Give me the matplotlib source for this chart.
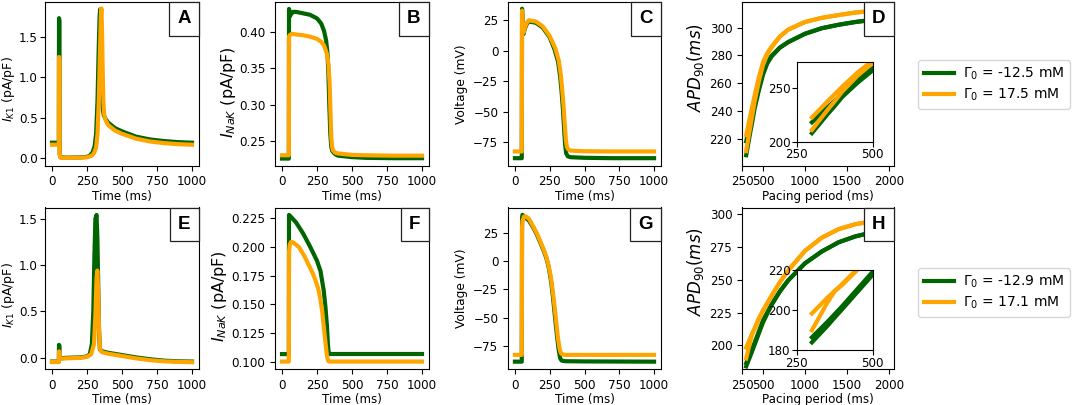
import matplotlib
matplotlib.use("Agg")
import matplotlib.pyplot as plt
from matplotlib.offsetbox import AnchoredText

# ---- data ----
# top row (Gamma0 = -12.5 / 17.5 mM)
ik1_a_t_green = [0, 49, 50, 53, 55, 60, 100, 200, 250, 270, 290, 305, 315, 325, 333, 340, 344, 348, 353, 358, 363, 370, 380, 400, 450, 500, 600, 700, 800, 900, 1000]
ik1_a_green = [0.19, 0.19, 1.73, 1.70, 0.05, 0.01, 0.005, 0.008, 0.015, 0.03, 0.07, 0.15, 0.3, 0.7, 1.3, 1.75, 1.84, 1.6, 1.1, 0.75, 0.6, 0.53, 0.49, 0.44, 0.37, 0.33, 0.265, 0.23, 0.21, 0.197, 0.19]
ik1_a_t_orange = [0, 49, 50, 53, 55, 60, 100, 200, 250, 280, 300, 315, 325, 335, 343, 349, 353, 357, 362, 367, 372, 380, 400, 450, 500, 600, 700, 800, 900, 1000]
ik1_a_orange = [0.165, 0.165, 1.25, 1.2, 0.04, 0.005, 0.002, 0.005, 0.01, 0.025, 0.06, 0.13, 0.3, 0.75, 1.35, 1.75, 1.85, 1.6, 1.1, 0.7, 0.55, 0.48, 0.41, 0.34, 0.3, 0.24, 0.205, 0.185, 0.172, 0.165]

inak_b_t_green = [0, 49, 50, 53, 57, 65, 80, 100, 150, 200, 250, 280, 300, 315, 325, 332, 338, 345, 352, 360, 380, 400, 500, 600, 800, 1000]
inak_b_green = [0.226, 0.226, 0.431, 0.428, 0.421, 0.424, 0.427, 0.427, 0.425, 0.423, 0.418, 0.411, 0.401, 0.388, 0.37, 0.34, 0.30, 0.26, 0.242, 0.236, 0.232, 0.230, 0.228, 0.227, 0.2265, 0.2265]
inak_b_t_orange = [0, 49, 50, 55, 70, 100, 150, 200, 250, 280, 300, 320, 332, 340, 346, 352, 358, 365, 380, 400, 500, 600, 800, 1000]
inak_b_orange = [0.2305, 0.2305, 0.393, 0.395, 0.397, 0.396, 0.395, 0.393, 0.39, 0.386, 0.381, 0.37, 0.355, 0.33, 0.29, 0.255, 0.242, 0.237, 0.234, 0.233, 0.231, 0.2305, 0.23, 0.23]

v_c_t_green = [0, 49, 51, 54, 58, 63, 70, 85, 100, 150, 200, 250, 285, 310, 325, 335, 345, 353, 360, 368, 380, 400, 500, 700, 1000]
v_c_green = [-88, -88, 34.5, 29, 18, 14, 18, 22, 24, 23, 19, 11, 1, -9, -21, -33, -48, -63, -76, -84, -86.5, -87.2, -87.7, -88, -88]
v_c_t_orange = [0, 49, 51, 54, 58, 63, 70, 85, 100, 150, 200, 250, 290, 315, 330, 340, 350, 358, 366, 374, 385, 400, 500, 700, 1000]
v_c_orange = [-82.5, -82.5, 33, 27, 16, 15, 19, 23, 25, 24, 20, 12, 2, -8, -20, -32, -46, -60, -73, -79, -81, -81.8, -82.3, -82.5, -82.5]

# bottom row (Gamma0 = -12.9 / 17.1 mM)
ik1_e_t_green = [0, 49, 50, 53, 55, 60, 100, 200, 250, 270, 285, 295, 303, 310, 318, 324, 330, 336, 342, 360, 400, 500, 600, 700, 800, 900, 1000]
ik1_e_green = [-0.04, -0.04, 0.14, 0.13, 0.0, -0.005, 0.0, 0.005, 0.015, 0.04, 0.15, 0.5, 1.1, 1.5, 1.54, 1.3, 0.8, 0.3, 0.09, 0.07, 0.055, 0.03, 0.005, -0.015, -0.03, -0.037, -0.04]
ik1_e_t_orange = [0, 49, 50, 53, 55, 60, 100, 200, 250, 280, 300, 310, 318, 324, 330, 336, 342, 350, 360, 400, 500, 600, 700, 800, 900, 1000]
ik1_e_orange = [-0.045, -0.045, 0.07, 0.065, -0.005, -0.01, -0.005, 0.0, 0.01, 0.04, 0.15, 0.45, 0.85, 0.94, 0.7, 0.3, 0.1, 0.07, 0.06, 0.045, 0.02, -0.005, -0.025, -0.037, -0.043, -0.047]

inak_f_t_green = [0, 49, 50, 55, 70, 100, 150, 200, 250, 275, 298, 310, 321, 328, 333, 340, 400, 600, 1000]
inak_f_green = [0.1065, 0.1065, 0.228, 0.2275, 0.2255, 0.2215, 0.212, 0.2005, 0.188, 0.179, 0.162, 0.148, 0.131, 0.115, 0.108, 0.1066, 0.1066, 0.1066, 0.1066]
inak_f_t_orange = [0, 49, 50, 55, 65, 80, 122, 160, 192, 220, 239, 260, 275, 288, 298, 310, 321, 330, 340, 400, 1000]
inak_f_orange = [0.1, 0.1, 0.195, 0.202, 0.2045, 0.204, 0.1998, 0.192, 0.184, 0.177, 0.171, 0.163, 0.154, 0.143, 0.131, 0.117, 0.105, 0.1005, 0.1, 0.1, 0.1]

v_g_t_green = [0, 49, 51, 54, 60, 75, 100, 130, 156, 180, 204, 225, 240, 252, 262, 276, 290, 303, 315, 325, 335, 360, 500, 1000]
v_g_green = [-89, -89, 38, 41, 40, 38.5, 36, 30, 24, 17, 10, 3, -4, -12, -20, -35, -52, -67, -79, -86, -88, -88.6, -88.8, -89]
v_g_t_orange = [0, 49, 51, 55, 65, 80, 100, 130, 156, 180, 204, 225, 240, 255, 265, 280, 295, 308, 320, 330, 340, 360, 500, 1000]
v_g_orange = [-83, -83, 30, 36, 39.5, 39.5, 37.5, 31, 25, 18, 11, 4, -3, -12, -20, -35, -52, -67, -77, -81.5, -82.5, -83, -83, -83]

# APD90 restitution (two alternans branches per condition)
pacing = [300, 350, 375, 400, 450, 500, 550, 600, 700, 800, 1000, 1200, 1400, 1600, 1800, 2000]
apd_d_green_hi = [218, 231.5, 238, 244.5, 257, 268, 275, 279.5, 285.5, 289.5, 295.5, 299.5, 302, 304, 305.5, 306.5]
apd_d_green_lo = [208, 225, 233, 241.5, 254.5, 266, 274, 279, 285.5, 289.5, 295.5, 299.5, 302, 304, 305.5, 306.5]
apd_d_orange_hi = [222.5, 237, 244, 251, 264, 275, 281.5, 286, 293.5, 298.5, 304, 307, 309, 310.8, 312, 313]
apd_d_orange_lo = [211, 229, 237.5, 246.5, 261, 273, 280.5, 285.5, 293.5, 298.5, 304, 307, 309, 310.8, 312, 313]

apd_h_green_hi = [186.5, 194, 198, 202, 210.5, 219, 225, 231, 241, 249.5, 262.5, 271.5, 278.5, 283, 286, 288]
apd_h_green_lo = [184, 192, 196.3, 200.5, 209, 217.5, 224, 230.5, 241, 249.5, 262.5, 271.5, 278.5, 283, 286, 288]
apd_h_orange_hi = [198.3, 206, 209.5, 212.5, 220, 226.5, 232, 237.5, 248, 257, 272, 282, 288.5, 292.3, 294.5, 296]
apd_h_orange_lo = [190, 203.5, 209.3, 213, 220.5, 226.5, 232, 237.5, 248, 257, 272, 282, 288.5, 292.3, 294.5, 296]

legend_top = [r"$\Gamma_0$ = -12.5 mM", r"$\Gamma_0$ = 17.5 mM"]
legend_bottom = [r"$\Gamma_0$ = -12.9 mM", r"$\Gamma_0$ = 17.1 mM"]

GREEN = "darkgreen"
ORANGE = "orange"
LW = 3.0

plt.rcParams["font.family"] = "DejaVu Sans"
plt.rcParams["font.size"] = 8.6

fig = plt.figure(figsize=(10.72, 4.05), dpi=100)

W, H = 1072.0, 405.0
def box(x0, x1, y0, y1):
    # pixel box -> figure fraction rect
    return [x0 / W, 1 - y1 / H, (x1 - x0) / W, (y1 - y0) / H]

cols = [(45, 199), (275, 429), (508, 661), (742, 894)]
rows = [(2, 165.5), (207.5, 369)]


def place_ylabel(ax, col, row, right_px, center_px):
    # label's right edge / centre given in figure pixels
    x0, x1 = cols[col]
    y0, y1 = rows[row]
    ax.yaxis.set_label_coords((right_px - x0) / (x1 - x0), (y1 - center_px) / (y1 - y0))


def panel_label(ax, letter):
    at = AnchoredText(letter, loc="upper right", pad=0.45, borderpad=0,
                      prop=dict(fontsize=13.5, fontweight="bold",
                                family="Liberation Sans"))
    at.patch.set_linewidth(0.9)
    at.patch.set_edgecolor("#222222")
    at.set_zorder(10)
    ax.add_artist(at)


def trace_panel(col, row, tg, yg, to, yo, ylabel, ylsize, ylim, yticks, letter):
    ax = fig.add_axes(box(*cols[col], *rows[row]))
    ax.plot(tg, yg, color=GREEN, lw=LW)
    ax.plot(to, yo, color=ORANGE, lw=LW)
    ax.set_xlim(-50, 1050)
    ax.set_xticks([0, 250, 500, 750, 1000])
    ax.set_ylim(*ylim)
    ax.set_yticks(yticks)
    ax.set_xlabel("Time (ms)", labelpad=1)
    ax.set_ylabel(ylabel, fontsize=ylsize)
    panel_label(ax, letter)
    return ax


def apd_panel(row, g_hi, g_lo, o_hi, o_lo, ylim, yticks, ins_rect, ins_ylim, ins_yticks, letter):
    ax = fig.add_axes(box(*cols[3], *rows[row]))
    ax.plot(pacing, g_lo, color=GREEN, lw=LW)
    ax.plot(pacing, g_hi, color=GREEN, lw=LW)
    ax.plot(pacing, o_lo, color=ORANGE, lw=LW)
    ax.plot(pacing, o_hi, color=ORANGE, lw=LW)
    ax.set_xlim(250, 2060)
    ax.set_xticks([250, 500, 1000, 1500, 2000])
    ax.set_ylim(*ylim)
    ax.set_yticks(yticks)
    ax.set_xlabel("Pacing period (ms)", labelpad=1)
    ax.set_ylabel(r"$APD_{90}(ms)$", fontsize=12)
    panel_label(ax, letter)

    ins = ax.inset_axes(ins_rect)
    ins.plot(pacing, g_lo, color=GREEN, lw=LW)
    ins.plot(pacing, g_hi, color=GREEN, lw=LW)
    ins.plot(pacing, o_lo, color=ORANGE, lw=LW)
    ins.plot(pacing, o_hi, color=ORANGE, lw=LW)
    ins.set_xlim(250, 500)
    ins.set_xticks([250, 500])
    ins.set_ylim(*ins_ylim)
    ins.set_yticks(ins_yticks)
    ins.tick_params(labelsize=8.6, pad=1)
    return ax


# top row
ax_a = trace_panel(0, 0, ik1_a_t_green, ik1_a_green, ik1_a_t_orange, ik1_a_orange,
                   r"$I_{K1}$ (pA/pF)", 9.0, (-0.092, 1.93), [0.0, 0.5, 1.0, 1.5], "A")
ax_b = trace_panel(1, 0, inak_b_t_green, inak_b_green, inak_b_t_orange, inak_b_orange,
                   r"$I_{NaK}$ (pA/pF)", 11.5, (0.2165, 0.4405), [0.25, 0.30, 0.35, 0.40], "B")
ax_c = trace_panel(2, 0, v_c_t_green, v_c_green, v_c_t_orange, v_c_orange,
                   "Voltage (mV)", 8.8, (-94, 40), [-75, -50, -25, 0, 25], "C")
ax_d = apd_panel(0, apd_d_green_hi, apd_d_green_lo, apd_d_orange_hi, apd_d_orange_lo,
                 (200.6, 318.4), [220, 240, 260, 280, 300],
                 [0.36, 0.145, 0.50, 0.49], (200, 274), [200, 250], "D")

# bottom row
ax_e = trace_panel(0, 1, ik1_e_t_green, ik1_e_green, ik1_e_t_orange, ik1_e_orange,
                   r"$I_{K1}$ (pA/pF)", 9.0, (-0.12, 1.62), [0.0, 0.5, 1.0, 1.5], "E")
ax_f = trace_panel(1, 1, inak_f_t_green, inak_f_green, inak_f_t_orange, inak_f_orange,
                   r"$I_{NaK}$ (pA/pF)", 11.5, (0.0935, 0.2345), [0.100, 0.125, 0.150, 0.175, 0.200, 0.225], "F")
ax_g = trace_panel(2, 1, v_g_t_green, v_g_green, v_g_t_orange, v_g_orange,
                   "Voltage (mV)", 8.8, (-95.5, 47.5), [-75, -50, -25, 0, 25], "G")
ax_h = apd_panel(1, apd_h_green_hi, apd_h_green_lo, apd_h_orange_hi, apd_h_orange_lo,
                 (182, 305), [200, 225, 250, 275, 300],
                 [0.36, 0.115, 0.50, 0.50], (180, 220), [180, 200, 220], "H")

# first column: tick labels slightly closer to the spine, as in the reference
for ax in (ax_a, ax_e):
    ax.tick_params(axis="y", pad=1.8)

place_ylabel(ax_a, 0, 0, 17.5, 89)
place_ylabel(ax_b, 1, 0, 238, 92)
place_ylabel(ax_d, 3, 0, 706, 68)
place_ylabel(ax_e, 0, 1, 17.5, 295)
place_ylabel(ax_f, 1, 1, 229, 296)
place_ylabel(ax_h, 3, 1, 706, 272)

# legends outside on the right
for labels, y_top in ((legend_top, 60), (legend_bottom, 268)):
    handles = [plt.Line2D([], [], color=GREEN, lw=LW), plt.Line2D([], [], color=ORANGE, lw=LW)]
    fig.legend(handles, labels, loc="upper left", bbox_to_anchor=(918 / W, 1 - y_top / H),
               fontsize=10, borderaxespad=0, frameon=True, handlelength=2.2,
               handletextpad=0.65, labelspacing=0.35)

fig.savefig("out.png", dpi=100)
